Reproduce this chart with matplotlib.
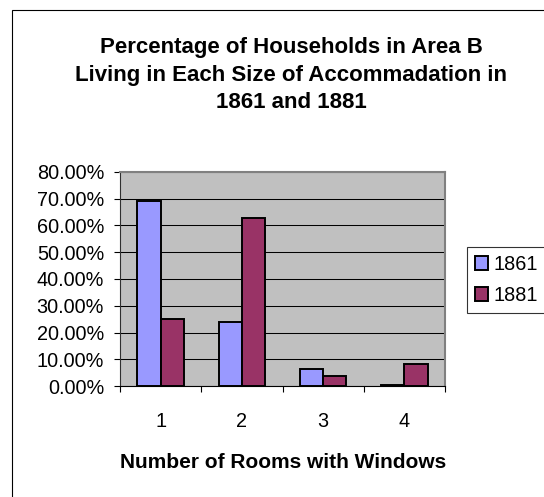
import matplotlib.pyplot as plt
from matplotlib.patches import Patch, Rectangle
from matplotlib.ticker import FuncFormatter

# values (percent of households)
rooms = [1, 2, 3, 4]
pct_1861 = [69.3, 24.0, 6.2, 0.5]
pct_1881 = [25.2, 62.9, 3.6, 8.3]
series_names = ["1861", "1881"]

plt.rcParams['font.family'] = ['Liberation Sans', 'DejaVu Sans']

blue = "#9999FF"
plum = "#993366"
W, H = 544, 497

fig = plt.figure(figsize=(W / 100, H / 100), dpi=100)
ax = fig.add_axes([120 / W, 1 - 386 / H, 325 / W, 214 / H])
ax.set_facecolor("#C0C0C0")

bw = 1 / 3.5
ax.bar([r - bw / 2 for r in rooms], pct_1861, width=bw, color=blue,
       edgecolor="black", linewidth=1.4, zorder=3)
ax.bar([r + bw / 2 for r in rooms], pct_1881, width=bw, color=plum,
       edgecolor="black", linewidth=1.4, zorder=3)

ax.set_xlim(0.5, 4.5)
ax.set_ylim(0, 80)
ax.set_yticks(range(0, 81, 10))
ax.yaxis.set_major_formatter(FuncFormatter(lambda v, p: "%.2f%%" % v))
ax.yaxis.grid(True, color="black", linewidth=0.75, zorder=1)
ax.set_axisbelow(True)

ax.set_xticks(rooms)
ax.set_xticklabels([str(r) for r in rooms])
ax.set_xticks([r - 0.5 for r in rooms] + [4.5], minor=True)
ax.tick_params(axis="x", which="major", length=0, pad=19, labelsize=14.3)
ax.tick_params(axis="x", which="minor", length=4.5, width=0.8,
               direction="out", color="black")
ax.tick_params(axis="y", length=4.5, width=0.8, pad=7, labelsize=14.3)

for side in ["top", "right"]:
    ax.spines[side].set_color("#808080")
    ax.spines[side].set_linewidth(1.5)
ax.spines["left"].set_color("#303030")
ax.spines["left"].set_linewidth(0.8)
ax.spines["bottom"].set_color("black")
ax.spines["bottom"].set_linewidth(0.8)

fig.text(291 / W, 1 - 75 / H,
         "Percentage of Households in Area B\n"
         "Living in Each Size of Accommadation in\n"
         "1861 and 1881",
         ha="center", va="center", fontsize=16, fontweight="bold",
         linespacing=1.38)
fig.text(283 / W, 1 - 462 / H, "Number of Rooms with Windows",
         ha="center", va="center", fontsize=15, fontweight="bold")

handles = [Patch(facecolor=blue, edgecolor="black", linewidth=1.4),
           Patch(facecolor=plum, edgecolor="black", linewidth=1.4)]
leg = fig.legend(handles, series_names, loc="center left",
                 bbox_to_anchor=(467 / W, 1 - 280 / H), fontsize=14.3,
                 frameon=True, fancybox=False, borderaxespad=0,
                 handlelength=0.65, handleheight=0.65, handletextpad=0.3,
                 labelspacing=0.6, borderpad=0.4)
leg.get_frame().set_edgecolor("black")
leg.get_frame().set_linewidth(0.8)

# outer chart frame, cut off at the right and bottom like the reference
fig.patches.append(Rectangle((11.5 / W, -0.5), 2, 1.5 - 10 / H, fill=False,
                             edgecolor="black", linewidth=0.8,
                             transform=fig.transFigure, figure=fig))

fig.savefig("out.png", dpi=100)
